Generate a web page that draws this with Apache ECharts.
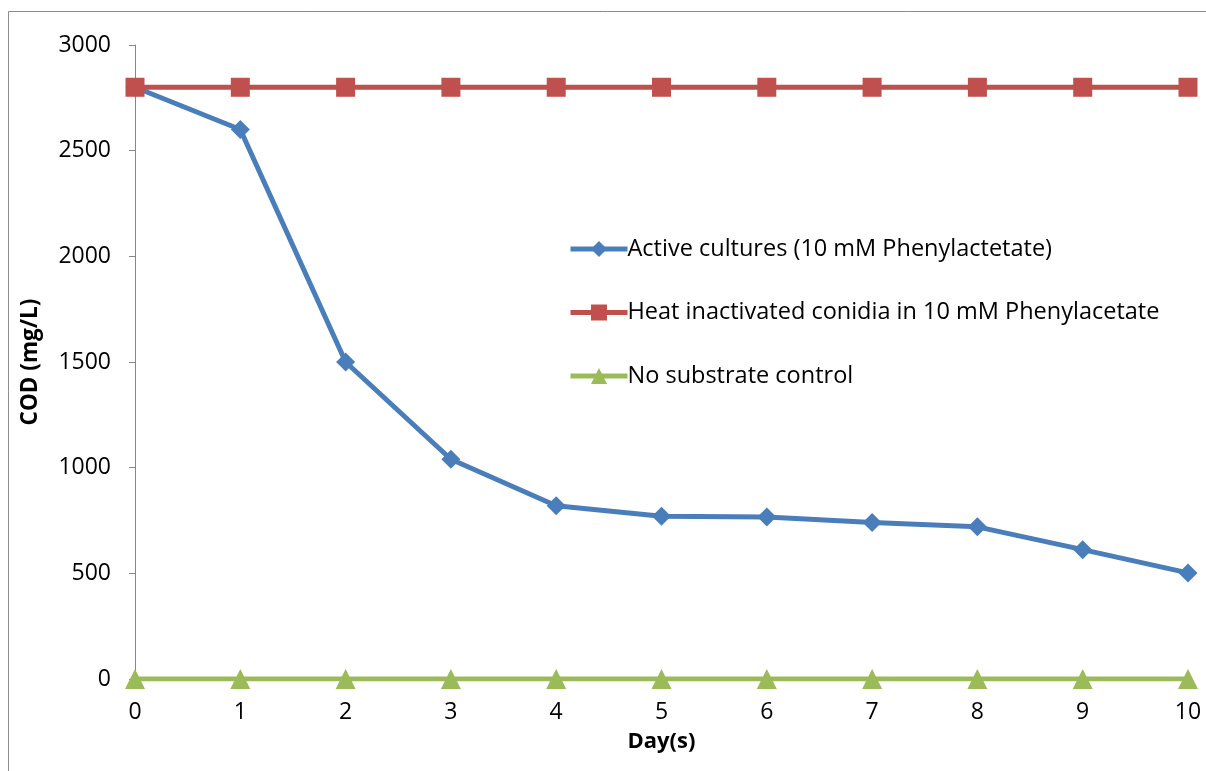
<!DOCTYPE html>
<html>
<head>
<meta charset="utf-8">
<style>
  html, body { margin: 0; padding: 0; background: #fff; }
  #chart { width: 1206px; height: 771px; }
</style>
<script src="https://cdn.jsdelivr.net/npm/echarts@6/dist/echarts.min.js"></script>
</head>
<body>
<div id="chart"></div>
<script>
// Days of incubation
const days = [0, 1, 2, 3, 4, 5, 6, 7, 8, 9, 10];
// COD (mg/L) per treatment
const activeCultures = [2800, 2600, 1500, 1040, 820, 770, 767, 740, 720, 612, 502];
const heatInactivated = [2800, 2800, 2800, 2800, 2800, 2800, 2800, 2800, 2800, 2800, 2800];
const noSubstrate = [0, 0, 0, 0, 0, 0, 0, 0, 0, 0, 0];
const seriesNames = [
  'Active cultures (10 mM Phenylactetate)',
  'Heat inactivated conidia in 10 mM Phenylacetate',
  'No substrate control'
];

const fontFamily = '"Open Sans", "Noto Sans", sans-serif';
const pairs = (ys) => days.map((d, i) => [d, ys[i]]);

const chart = echarts.init(document.getElementById('chart'));
chart.setOption({
  animation: false,
  backgroundColor: '#fff',
  graphic: [{
    type: 'rect',
    shape: { x: 8.5, y: 11.5, width: 1300, height: 900 },
    style: { fill: 'none', stroke: '#8c8c8c', lineWidth: 1 },
    silent: true
  }],
  grid: { left: 135, right: 18, top: 45, bottom: 92 },
  legend: {
    orient: 'vertical',
    left: 563,
    top: 230,
    itemWidth: 57,
    itemHeight: 20,
    itemGap: 35.5,
    lineStyle: { width: 5 },
    textStyle: { fontFamily, fontSize: 23.5, color: '#000', lineHeight: 28, padding: [0, 0, 0, -5] },
    data: seriesNames
  },
  xAxis: {
    type: 'value',
    min: 0, max: 10, interval: 1,
    name: 'Day(s)',
    nameLocation: 'middle',
    nameGap: 52,
    nameTextStyle: { fontFamily, fontSize: 22, fontWeight: 'bold', color: '#000' },
    axisLine: { show: true, lineStyle: { color: '#868686' } },
    axisTick: { show: true, length: 5, lineStyle: { color: '#868686' } },
    axisLabel: { fontFamily, fontSize: 23, color: '#000', margin: 22 },
    splitLine: { show: false }
  },
  yAxis: {
    type: 'value',
    min: 0, max: 3000, interval: 500,
    name: 'COD (mg/L)',
    nameLocation: 'middle',
    nameGap: 93,
    nameTextStyle: { fontFamily, fontSize: 22.5, fontWeight: 'bold', color: '#000' },
    axisLine: { show: true, lineStyle: { color: '#868686' } },
    axisTick: { show: true, length: 6, lineStyle: { color: '#868686' } },
    axisLabel: { fontFamily, fontSize: 23, color: '#000', margin: 24, formatter: (v) => String(v) },
    splitLine: { show: false }
  },
  series: [
    {
      name: seriesNames[0],
      type: 'line',
      data: pairs(activeCultures),
      symbol: 'diamond',
      symbolSize: 19,
      lineStyle: { width: 5, color: '#4a7ebb' },
      itemStyle: { color: '#4a7ebb' }
    },
    {
      name: seriesNames[1],
      type: 'line',
      data: pairs(heatInactivated),
      symbol: 'rect',
      symbolSize: 19,
      lineStyle: { width: 5, color: '#c0504d' },
      itemStyle: { color: '#c0504d' }
    },
    {
      name: seriesNames[2],
      type: 'line',
      data: pairs(noSubstrate),
      symbol: 'triangle',
      symbolSize: 20,
      lineStyle: { width: 5, color: '#9bbb59' },
      itemStyle: { color: '#9bbb59' }
    }
  ]
});
</script>
</body>
</html>
